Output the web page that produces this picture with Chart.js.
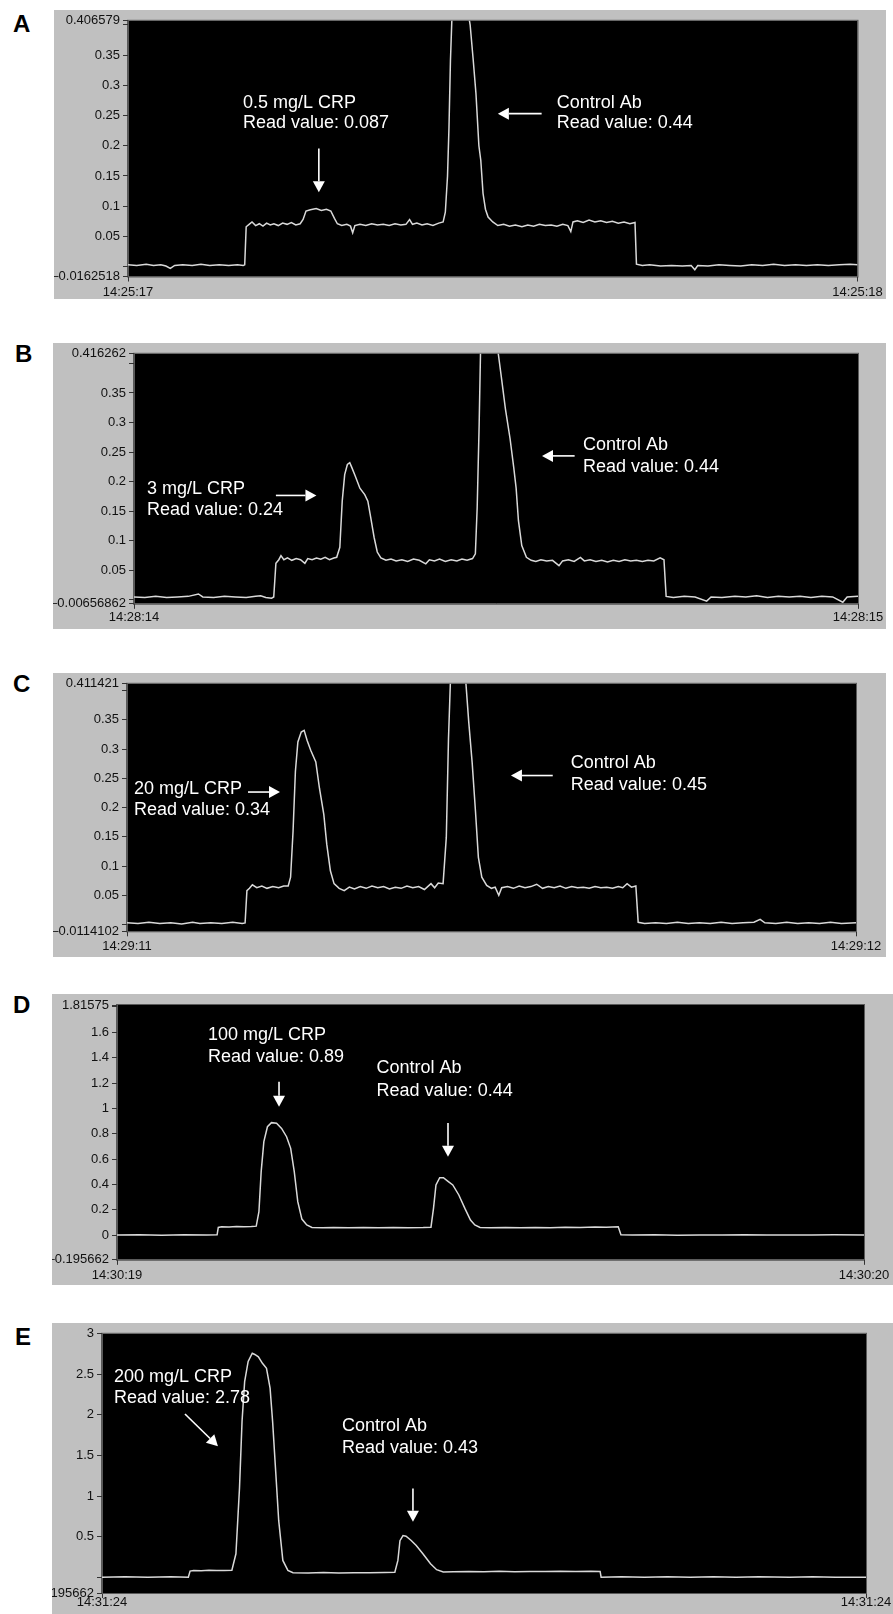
<!DOCTYPE html>
<html><head><meta charset="utf-8">
<script src="https://cdn.jsdelivr.net/npm/chart.js@4.4.1/dist/chart.umd.min.js"></script>
<style>
body{margin:0;background:#fff;width:893px;height:1614px;position:relative;overflow:hidden;font-family:"Liberation Sans",Arial,sans-serif}
canvas{position:absolute}
.lab{position:absolute;font:bold 24px "Liberation Sans",Arial,sans-serif;line-height:24px;color:#000}
</style></head><body>
<script>
// ---------- Panel A ----------
const tA=[0,0.012,0.025,0.035,0.045,0.052,0.058,0.064,0.075,0.088,0.1,0.112,0.125,0.138,0.15,0.158,0.160,0.162,0.166,0.170,0.175,0.18,0.185,0.19,0.195,0.2,0.206,0.212,0.218,0.224,0.23,0.236,0.24,0.244,0.25,0.258,0.265,0.272,0.278,0.283,0.287,0.293,0.3,0.305,0.308,0.311,0.318,0.326,0.334,0.342,0.35,0.358,0.366,0.374,0.381,0.386,0.39,0.396,0.403,0.41,0.418,0.426,0.432,0.435,0.438,0.44,0.442,0.444,0.448,0.456,0.464,0.469,0.473,0.477,0.481,0.4836,0.4867,0.49,0.4936,0.5,0.507,0.515,0.523,0.531,0.54,0.548,0.556,0.564,0.572,0.58,0.588,0.596,0.603,0.607,0.61,0.616,0.624,0.632,0.64,0.648,0.656,0.664,0.672,0.68,0.688,0.695,0.697,0.705,0.715,0.73,0.745,0.76,0.772,0.777,0.781,0.795,0.81,0.825,0.84,0.855,0.87,0.885,0.9,0.915,0.93,0.945,0.96,0.975,0.99,1];
const yA=[0.003,0.002,0.004,0.002,0.003,0.001,-0.003,0.002,0.003,0.002,0.004,0.002,0.003,0.002,0.003,0.002,0.003,0.066,0.070,0.074,0.068,0.071,0.067,0.072,0.069,0.071,0.068,0.072,0.07,0.073,0.069,0.071,0.078,0.092,0.094,0.096,0.093,0.095,0.092,0.08,0.071,0.068,0.07,0.067,0.056,0.068,0.07,0.068,0.071,0.069,0.07,0.068,0.071,0.069,0.07,0.078,0.07,0.072,0.069,0.071,0.068,0.072,0.074,0.09,0.15,0.23,0.34,0.41,0.44,0.445,0.435,0.40,0.345,0.286,0.2,0.176,0.121,0.095,0.082,0.074,0.068,0.07,0.067,0.069,0.066,0.069,0.067,0.07,0.068,0.069,0.067,0.07,0.068,0.058,0.074,0.076,0.073,0.077,0.074,0.076,0.073,0.075,0.072,0.074,0.071,0.073,0.004,0.002,0.003,0.001,0.002,0.001,0.002,-0.005,0.002,0.001,0.003,0.002,0.001,0.003,0.002,0.004,0.002,0.003,0.002,0.003,0.002,0.003,0.004,0.003];
const yTicksA=[-0.0162518,0,0.05,0.1,0.15,0.2,0.25,0.3,0.35,0.4,0.406579];
const yLabelsA=['–0.0162518','','0.05','0.1','0.15','0.2','0.25','0.3','0.35','','0.406579'];
const xLabelsA=['14:25:17','14:25:18'];
const notesA=[{x:0.1575,y:0.270,text:'0.5 mg/L CRP'},{x:0.1575,y:0.2368,text:'Read value: 0.087'},{x:0.5877,y:0.270,text:'Control Ab'},{x:0.5877,y:0.2368,text:'Read value: 0.44'}];
const arrowsA=[{x1:0.2616,y1:0.1956,x2:0.2616,y2:0.123},{x1:0.567,y1:0.253,x2:0.507,y2:0.253}];

// ---------- Panel B ----------
const tB=[0,0.015,0.03,0.045,0.06,0.075,0.089,0.095,0.11,0.125,0.14,0.155,0.168,0.175,0.182,0.19,0.193,0.196,0.2,0.203,0.207,0.212,0.218,0.224,0.23,0.236,0.24,0.246,0.252,0.258,0.264,0.27,0.276,0.28,0.2843,0.2876,0.291,0.2947,0.298,0.3005,0.3057,0.312,0.3187,0.323,0.327,0.3316,0.336,0.341,0.348,0.355,0.362,0.37,0.378,0.386,0.394,0.403,0.408,0.415,0.422,0.43,0.438,0.446,0.453,0.46,0.4676,0.4715,0.474,0.4767,0.4786,0.482,0.49,0.497,0.503,0.5078,0.513,0.5194,0.5246,0.5278,0.531,0.5356,0.542,0.5486,0.555,0.562,0.57,0.578,0.587,0.592,0.6,0.608,0.6166,0.622,0.63,0.638,0.646,0.654,0.662,0.67,0.678,0.686,0.694,0.702,0.71,0.718,0.7267,0.732,0.735,0.745,0.76,0.775,0.791,0.797,0.812,0.83,0.845,0.86,0.875,0.89,0.905,0.92,0.935,0.95,0.965,0.979,0.985,1];
const yB=[0.005,0.004,0.006,0.004,0.005,0.006,0.010,0.005,0.004,0.006,0.005,0.004,0.006,0.007,0.004,0.003,0.005,0.062,0.068,0.075,0.068,0.071,0.067,0.07,0.068,0.062,0.07,0.068,0.071,0.069,0.072,0.068,0.071,0.072,0.089,0.167,0.212,0.229,0.232,0.225,0.209,0.189,0.178,0.167,0.139,0.106,0.081,0.071,0.067,0.069,0.066,0.068,0.065,0.069,0.067,0.061,0.068,0.066,0.069,0.065,0.068,0.066,0.069,0.067,0.07,0.078,0.156,0.295,0.418,0.44,0.445,0.432,0.418,0.373,0.323,0.273,0.223,0.189,0.134,0.092,0.072,0.067,0.065,0.068,0.066,0.067,0.058,0.066,0.068,0.065,0.072,0.066,0.068,0.065,0.067,0.064,0.067,0.065,0.068,0.066,0.067,0.065,0.067,0.066,0.071,0.068,0.006,0.004,0.006,0.005,-0.002,0.005,0.004,0.006,0.005,0.007,0.004,0.006,0.005,0.006,0.004,0.006,0.005,-0.004,0.005,0.006];
const yTicksB=[-0.00656862,0,0.05,0.1,0.15,0.2,0.25,0.3,0.35,0.4,0.416262];
const yLabelsB=['–0.00656862','','0.05','0.1','0.15','0.2','0.25','0.3','0.35','','0.416262'];
const xLabelsB=['14:28:14','14:28:15'];
const notesB=[{x:0.018,y:0.1877,text:'3 mg/L CRP'},{x:0.018,y:0.152,text:'Read value: 0.24'},{x:0.620,y:0.262,text:'Control Ab'},{x:0.620,y:0.2245,text:'Read value: 0.44'}];
const arrowsB=[{x1:0.196,y1:0.1767,x2:0.252,y2:0.1767},{x1:0.6086,y1:0.2436,x2:0.5635,y2:0.2436}];

// ---------- Panel C ----------
const tC=[0,0.015,0.03,0.045,0.06,0.075,0.09,0.1,0.115,0.13,0.145,0.158,0.162,0.1645,0.168,0.172,0.178,0.185,0.192,0.2,0.208,0.215,0.2211,0.2244,0.2278,0.231,0.2344,0.239,0.243,0.247,0.252,0.259,0.264,0.27,0.274,0.279,0.284,0.291,0.298,0.305,0.312,0.32,0.328,0.336,0.344,0.352,0.36,0.368,0.376,0.384,0.392,0.4,0.408,0.417,0.422,0.427,0.4336,0.438,0.441,0.4436,0.447,0.455,0.462,0.4648,0.4688,0.4734,0.478,0.482,0.4867,0.4934,0.5,0.505,0.51,0.514,0.522,0.53,0.538,0.546,0.554,0.562,0.57,0.578,0.586,0.594,0.602,0.61,0.618,0.626,0.634,0.642,0.65,0.658,0.666,0.674,0.68,0.686,0.692,0.698,0.7012,0.71,0.725,0.74,0.755,0.77,0.785,0.8,0.815,0.83,0.845,0.86,0.8685,0.875,0.89,0.905,0.92,0.935,0.95,0.965,0.98,1];
const yC=[0.003,0.002,0.004,0.002,0.003,0.001,0.004,0.002,0.003,0.002,0.004,0.002,0.003,0.058,0.062,0.068,0.063,0.066,0.062,0.065,0.063,0.066,0.066,0.081,0.16,0.2615,0.312,0.329,0.332,0.315,0.298,0.278,0.233,0.188,0.1375,0.092,0.07,0.062,0.058,0.064,0.061,0.065,0.062,0.066,0.063,0.065,0.061,0.064,0.062,0.066,0.063,0.065,0.06,0.07,0.063,0.071,0.07,0.149,0.318,0.414,0.44,0.452,0.44,0.414,0.346,0.278,0.194,0.115,0.081,0.067,0.062,0.064,0.05,0.063,0.065,0.062,0.066,0.063,0.065,0.069,0.062,0.065,0.063,0.066,0.062,0.065,0.063,0.064,0.062,0.065,0.063,0.064,0.062,0.065,0.063,0.07,0.064,0.066,0.004,0.002,0.003,0.002,0.004,0.002,0.003,0.002,0.004,0.002,0.003,0.004,0.009,0.003,0.002,0.004,0.002,0.003,0.002,0.004,0.002,0.003];
const yTicksC=[-0.0114102,0,0.05,0.1,0.15,0.2,0.25,0.3,0.35,0.4,0.411421];
const yLabelsC=['–0.0114102','','0.05','0.1','0.15','0.2','0.25','0.3','0.35','','0.411421'];
const xLabelsC=['14:29:11','14:29:12'];
const notesC=[{x:0.0096,y:0.2322,text:'20 mg/L CRP'},{x:0.0096,y:0.195,text:'Read value: 0.34'},{x:0.6088,y:0.2756,text:'Control Ab'},{x:0.6088,y:0.2378,text:'Read value: 0.45'}];
const arrowsC=[{x1:0.166,y1:0.2265,x2:0.2099,y2:0.2265},{x1:0.584,y1:0.2547,x2:0.5267,y2:0.2547}];

// ---------- Panel D ----------
const tD=[0,0.03,0.06,0.09,0.12,0.134,0.1356,0.14,0.15,0.16,0.17,0.18,0.1864,0.19,0.193,0.1966,0.2014,0.2068,0.2136,0.2203,0.227,0.2325,0.2373,0.242,0.2475,0.254,0.261,0.275,0.29,0.31,0.33,0.35,0.37,0.39,0.41,0.4203,0.4237,0.427,0.432,0.437,0.4427,0.4495,0.4576,0.4657,0.4732,0.479,0.486,0.5,0.52,0.54,0.56,0.58,0.6,0.62,0.64,0.655,0.671,0.6746,0.69,0.72,0.75,0.78,0.81,0.84,0.87,0.9,0.93,0.96,1];
const yD=[0,0.002,-0.002,0.003,0,0.002,0.06,0.066,0.064,0.068,0.065,0.067,0.07,0.184,0.5,0.737,0.855,0.887,0.882,0.842,0.776,0.684,0.5,0.263,0.126,0.079,0.06,0.058,0.06,0.057,0.059,0.058,0.06,0.057,0.059,0.062,0.21,0.395,0.452,0.452,0.426,0.395,0.316,0.21,0.118,0.079,0.06,0.058,0.06,0.057,0.059,0.058,0.061,0.06,0.064,0.062,0.065,0.002,0,0.002,-0.001,0.001,0,0.002,0,0.001,0,0.002,0];
const yTicksD=[-0.195662,0,0.2,0.4,0.6,0.8,1,1.2,1.4,1.6,1.8,1.81575];
const yLabelsD=['–0.195662','0','0.2','0.4','0.6','0.8','1','1.2','1.4','1.6','','1.81575'];
const xLabelsD=['14:30:19','14:30:20'];
const notesD=[{x:0.1218,y:1.578,text:'100 mg/L CRP'},{x:0.1218,y:1.407,text:'Read value: 0.89'},{x:0.3475,y:1.32,text:'Control Ab'},{x:0.3475,y:1.1365,text:'Read value: 0.44'}];
const arrowsD=[{x1:0.2169,y1:1.21,x2:0.2169,y2:1.013},{x1:0.4431,y1:0.884,x2:0.4431,y2:0.618}];

// ---------- Panel E ----------
const tE=[0,0.03,0.06,0.09,0.113,0.1153,0.12,0.13,0.14,0.15,0.16,0.17,0.1753,0.18,0.1833,0.1867,0.1913,0.1967,0.2,0.2047,0.21,0.2153,0.22,0.2233,0.2273,0.2313,0.2367,0.2433,0.25,0.27,0.29,0.31,0.33,0.35,0.37,0.3833,0.3873,0.39,0.394,0.398,0.4047,0.4113,0.42,0.43,0.438,0.4467,0.46,0.48,0.5,0.52,0.54,0.56,0.58,0.6,0.62,0.64,0.652,0.6533,0.68,0.71,0.74,0.77,0.8,0.83,0.86,0.9,0.93,0.96,1];
const yE=[0,0.005,0,0.004,0,0.075,0.083,0.08,0.084,0.081,0.083,0.085,0.288,1.104,1.92,2.41,2.66,2.76,2.745,2.717,2.636,2.575,2.33,1.92,1.31,0.696,0.206,0.083,0.055,0.05,0.056,0.052,0.055,0.053,0.056,0.06,0.206,0.45,0.512,0.504,0.451,0.39,0.288,0.165,0.092,0.063,0.065,0.07,0.066,0.071,0.067,0.07,0.068,0.071,0.069,0.072,0.07,0,0.005,0,0.004,0,0.005,0,0.004,0,0.005,0,0];
const yTicksE=[-0.195662,0,0.5,1,1.5,2,2.5,3];
const yLabelsE=['–0.195662','','0.5','1','1.5','2','2.5','3'];
const xLabelsE=['14:31:24','14:31:24'];
const notesE=[{x:0.0157,y:2.473,text:'200 mg/L CRP'},{x:0.0157,y:2.207,text:'Read value: 2.78'},{x:0.3141,y:1.86,text:'Control Ab'},{x:0.3141,y:1.594,text:'Read value: 0.43'}];
const arrowsE=[{x1:0.1086,y1:2.011,x2:0.1518,y2:1.615},{x1:0.407,y1:1.092,x2:0.407,y2:0.684}];

// ---------- layout ----------
const FONT='"Liberation Sans", Arial, sans-serif';
const panels=[
 {id:'A',t:tA,y:yA,yTicks:yTicksA,yLabels:yLabelsA,xLabels:xLabelsA,notes:notesA,arrows:arrowsA,
  box:[54,10,832,289],area:{left:74,top:10,right:28,bottom:22.5},xPad:3.2,letter:[13,12]},
 {id:'B',t:tB,y:yB,yTicks:yTicksB,yLabels:yLabelsB,xLabels:xLabelsB,notes:notesB,arrows:arrowsB,
  box:[53,343,833,286],area:{left:81,top:8.1,right:28,bottom:25.2},xPad:0.4,letter:[15,342]},
 {id:'C',t:tC,y:yC,yTicks:yTicksC,yLabels:yLabelsC,xLabels:xLabelsC,notes:notesC,arrows:arrowsC,
  box:[53,673,833,284],area:{left:74,top:8.4,right:30,bottom:25.7},xPad:1.9,letter:[13,672]},
 {id:'D',t:tD,y:yD,yTicks:yTicksD,yLabels:yLabelsD,xLabels:xLabelsD,notes:notesD,arrows:arrowsD,
  box:[52,994,841,291],area:{left:65,top:11,right:29,bottom:25.2},xPad:2.4,letter:[13,993]},
 {id:'E',t:tE,y:yE,yTicks:yTicksE,yLabels:yLabelsE,xLabels:xLabelsE,notes:notesE,arrows:arrowsE,
  box:[52,1323,841,291],area:{left:50,top:9,right:27,bottom:21},xPad:-3,letter:[15,1325]}
];

function arrow(ctx,x1,y1,x2,y2){
  const L=11,W=6,dx=x2-x1,dy=y2-y1,len=Math.hypot(dx,dy),ux=dx/len,uy=dy/len;
  const bx=x2-ux*L,by=y2-uy*L;
  ctx.beginPath();ctx.moveTo(x1,y1);ctx.lineTo(bx,by);ctx.stroke();
  ctx.beginPath();ctx.moveTo(x2,y2);ctx.lineTo(bx-uy*W,by+ux*W);ctx.lineTo(bx+uy*W,by-ux*W);ctx.closePath();ctx.fill();
}

panels.forEach(P=>{
  const lab=document.createElement('div');lab.className='lab';lab.textContent=P.id;
  lab.style.left=P.letter[0]+'px';lab.style.top=P.letter[1]+'px';document.body.appendChild(lab);
  const cv=document.createElement('canvas');
  cv.width=P.box[2];cv.height=P.box[3];
  cv.style.left=P.box[0]+'px';cv.style.top=P.box[1]+'px';cv.style.width=P.box[2]+'px';cv.style.height=P.box[3]+'px';
  document.body.appendChild(cv);
  const deco={id:'deco'+P.id,
    beforeDraw(c){const ctx=c.ctx,a=c.chartArea;ctx.save();
      ctx.fillStyle='#c0c0c0';ctx.fillRect(0,0,c.width,c.height);
      ctx.fillStyle='#000';ctx.fillRect(a.left,a.top,a.right-a.left,a.bottom-a.top);
      ctx.strokeStyle='#5a5a5a';ctx.lineWidth=1;ctx.strokeRect(a.left-0.5,a.top-0.5,a.right-a.left+1,a.bottom-a.top+1);
      ctx.restore();},
    afterDatasetsDraw(c){const ctx=c.ctx,xs=c.scales.x,ys=c.scales.y;ctx.save();
      ctx.fillStyle='#fff';ctx.strokeStyle='#fff';ctx.lineWidth=1.6;
      ctx.font='18px '+FONT;ctx.textBaseline='middle';ctx.textAlign='left';
      P.notes.forEach(n=>ctx.fillText(n.text,xs.getPixelForValue(n.x),ys.getPixelForValue(n.y)));
      P.arrows.forEach(r=>arrow(ctx,xs.getPixelForValue(r.x1),ys.getPixelForValue(r.y1),xs.getPixelForValue(r.x2),ys.getPixelForValue(r.y2)));
      ctx.restore();}
  };
  new Chart(cv,{type:'line',
    data:{datasets:[{data:P.t.map((t,i)=>({x:t,y:P.y[i]})),borderColor:'#d9d9d9',borderWidth:1.5,pointRadius:0,tension:0,clip:0,fill:false}]},
    options:{responsive:false,animation:false,events:[],devicePixelRatio:1,
      layout:{padding:{top:P.area.top,right:P.area.right,left:0,bottom:0}},
      plugins:{legend:{display:false},tooltip:{enabled:false}},
      scales:{
        x:{type:'linear',min:0,max:1,bounds:'data',
          afterBuildTicks:s=>{s.ticks=[{value:0},{value:1}];},
          afterFit:s=>{s.height=P.area.bottom;},
          ticks:{autoSkip:false,maxRotation:0,minRotation:0,color:'#111',font:{family:FONT,size:13},padding:P.xPad,callback:(v,i)=>P.xLabels[i]},
          grid:{drawOnChartArea:false,drawTicks:true,tickLength:5,color:'#333',lineWidth:1},
          border:{display:true,color:'#5a5a5a'}},
        y:{type:'linear',min:P.yTicks[0],max:P.yTicks[P.yTicks.length-1],bounds:'data',
          afterBuildTicks:s=>{s.ticks=P.yTicks.map(v=>({value:v}));},
          afterFit:s=>{s.width=P.area.left;},
          ticks:{autoSkip:false,color:'#111',font:{family:FONT,size:13},padding:3,callback:(v,i)=>P.yLabels[i]},
          grid:{drawOnChartArea:false,drawTicks:true,tickLength:5,color:'#333',lineWidth:1},
          border:{display:true,color:'#5a5a5a'}}
      }
    },
    plugins:[deco]
  });
});
</script>
</body></html>
